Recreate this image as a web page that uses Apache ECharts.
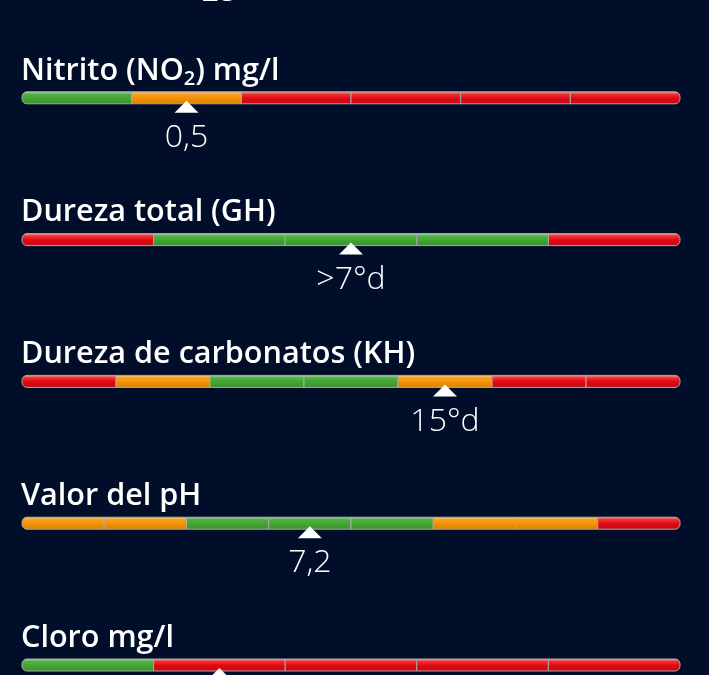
<!DOCTYPE html>
<html>
<head>
<meta charset="utf-8">
<script src="https://cdn.jsdelivr.net/npm/echarts@6/dist/echarts.min.js"></script>
<style>
html,body{margin:0;padding:0;background:#000e29;}
#chart{width:709px;height:675px;}
</style>
</head>
<body>
<div id="chart"></div>
<script>
// ---- data ----
const gaugeTitles = [
  'Nitrato (NO{sub|3}) mg/l',
  'Nitrito (NO{sub|2}) mg/l',
  'Dureza total (GH)',
  'Dureza de carbonatos (KH)',
  'Valor del pH',
  'Cloro mg/l'
];
const gaugeSegments = [
  ['ok', 'ok', 'warn', 'bad', 'bad'],
  ['ok', 'warn', 'bad', 'bad', 'bad', 'bad'],
  ['bad', 'ok', 'ok', 'ok', 'bad'],
  ['bad', 'warn', 'ok', 'ok', 'warn', 'bad', 'bad'],
  ['warn', 'warn', 'ok', 'ok', 'ok', 'warn', 'warn', 'bad'],
  ['ok', 'bad', 'bad', 'bad', 'bad']
];
const markerPositions = [1.5, 1.5, 2.5, 4.5, 3.5, 1.5];
const markerLabels = ['25', '0,5', '>7°d', '15°d', '7,2', ''];

// ---- layout / style ----
const FIRST_TOP = -50, STEP = 141.8, BAR_H = 12;
const LEFT = 22, RIGHT = 29;
const palette = {
  ok:   ['#c2e2bb', '#52b046', '#43a535', '#3a8f30'],
  warn: ['#fcd6a6', '#f6a223', '#f39200', '#d88000'],
  bad:  ['#f7b3a6', '#ec3434', '#e30613', '#b80f18']
};
function grad(st) {
  const c = palette[st];
  return new echarts.graphic.LinearGradient(0, 0, 0, 1, [
    {offset: 0, color: c[0]},
    {offset: 0.22, color: c[1]},
    {offset: 0.55, color: c[2]},
    {offset: 1, color: c[3]}
  ]);
}

const grids = [], xAxes = [], yAxes = [], series = [], titles = [];
gaugeSegments.forEach((segs, i) => {
  const top = FIRST_TOP + STEP * i;
  grids.push({left: LEFT, right: RIGHT, top: top, height: BAR_H});
  xAxes.push({type: 'value', gridIndex: i, min: 0, max: segs.length, show: false});
  yAxes.push({type: 'value', gridIndex: i, min: 0, max: 1, show: false});
  titles.push({
    text: gaugeTitles[i], left: LEFT - 1, top: top - 39, padding: 0,
    textStyle: {
      color: '#ffffff', fontFamily: 'Open Sans', fontWeight: 600, fontSize: 30.6, lineHeight: 36,
      rich: {sub: {color: '#ffffff', fontFamily: 'Open Sans', fontWeight: 600, fontSize: 20, lineHeight: 17, verticalAlign: 'bottom'}}
    }
  });
  const n = segs.length;
  series.push({
    type: 'custom', xAxisIndex: i, yAxisIndex: i, clip: false, silent: true,
    data: segs.map((s, j) => [j, j + 1, s]),
    encode: {x: [0, 1]},
    renderItem: function (params, api) {
      const j = params.dataIndex;
      const st = segs[j];
      const p0 = api.coord([api.value(0), 1]);
      const p1 = api.coord([api.value(1), 0]);
      const r = n === 1 ? 5 : (j === 0 ? [5, 0, 0, 5] : (j === n - 1 ? [0, 5, 5, 0] : 0));
      return {
        type: 'rect',
        shape: {x: p0[0], y: p0[1], width: p1[0] - p0[0], height: p1[1] - p0[1], r: r},
        style: {fill: grad(st), stroke: '#a9a9a9', lineWidth: 1}
      };
    }
  });
  series.push({
    type: 'custom', xAxisIndex: i, yAxisIndex: i, clip: false, silent: true, z: 5,
    data: [[markerPositions[i], 0, markerLabels[i]]],
    encode: {x: 0, y: 1},
    renderItem: function (params, api) {
      const tip = api.coord([api.value(0), 0.25]);
      const base = api.coord([api.value(0), -0.75]);
      return {
        type: 'group',
        children: [
          {type: 'polygon', shape: {points: [[tip[0], tip[1]], [tip[0] + 12, base[1]], [tip[0] - 12, base[1]]]},
           style: {fill: '#ffffff'}},
          {type: 'text', style: {text: markerLabels[i], x: tip[0], y: base[1] + 9, align: 'center', verticalAlign: 'top',
            fill: '#ffffff', font: '300 32px "Open Sans"'}}
        ]
      };
    }
  });
});

const chart = echarts.init(document.getElementById('chart'), null, {renderer: 'canvas'});
chart.setOption({
  backgroundColor: '#000e29',
  animation: false,
  title: titles,
  grid: grids,
  xAxis: xAxes,
  yAxis: yAxes,
  series: series
});
</script>
</body>
</html>
